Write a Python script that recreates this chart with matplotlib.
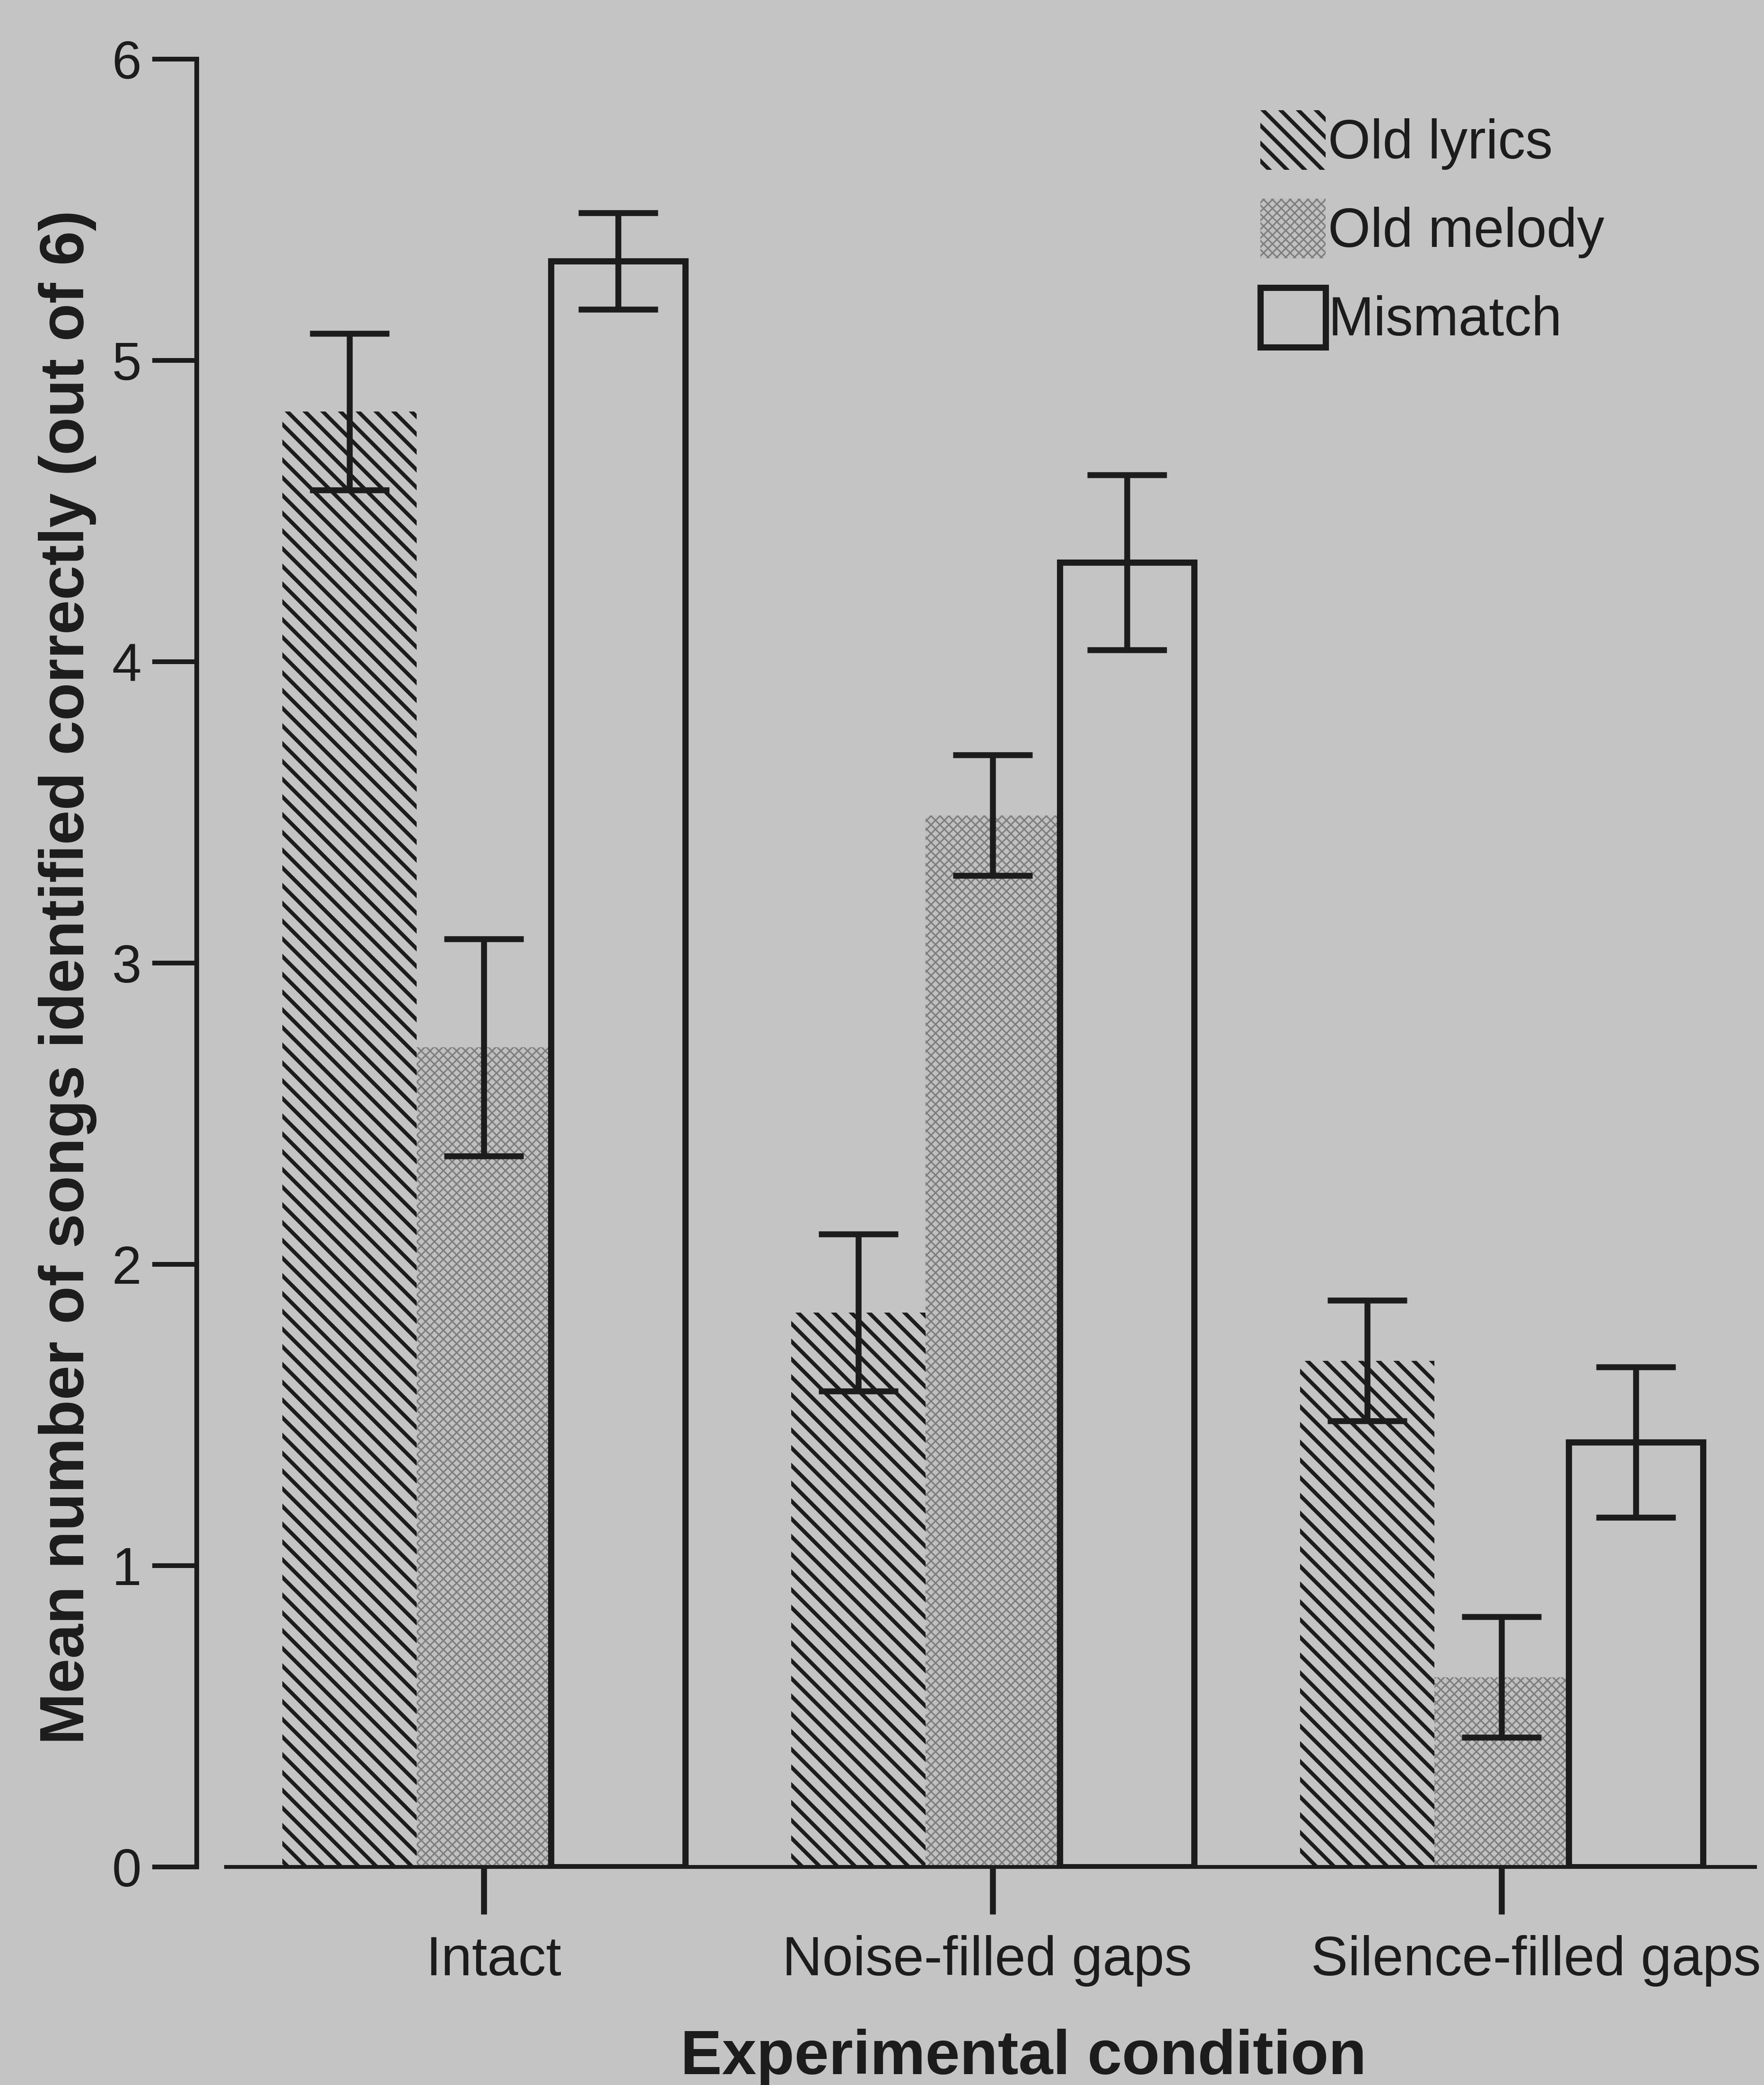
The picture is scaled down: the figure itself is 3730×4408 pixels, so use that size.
import matplotlib
matplotlib.use("Agg")
import matplotlib.pyplot as plt
import matplotlib.transforms as mtransforms
import numpy as np

# ---- data ----
conditions = ["Intact", "Noise-filled gaps", "Silence-filled gaps"]
series = ["Old lyrics", "Old melody", "Mismatch"]

old_lyrics = [4.83, 1.84, 1.68]
old_lyrics_err = [0.26, 0.26, 0.20]
old_melody = [2.72, 3.49, 0.63]
old_melody_err = [0.36, 0.20, 0.20]
mismatch = [5.33, 4.33, 1.41]
mismatch_err = [0.16, 0.29, 0.25]

# ---- figure geometry (pixels of the 3730x4408 output) ----
W, H, DPI = 3730, 4408, 225
BG = "#c4c4c4"
INK = "#1c1c1c"
LYRICS_HATCH_LW = 2.6
MELODY_HATCH_LW = 1.0

plt.rcParams["font.family"] = ["Liberation Sans", "DejaVu Sans"]
plt.rcParams["hatch.linewidth"] = LYRICS_HATCH_LW


def set_hatch_lw(patch, lw):
    if hasattr(patch, "set_hatch_linewidth"):
        patch.set_hatch_linewidth(lw)
    else:
        patch._hatch_linewidth = lw


fig = plt.figure(figsize=(W / DPI, H / DPI), dpi=DPI, facecolor=BG)
ax = fig.add_axes([416 / W, 1 - 3947 / H, 1 - 416 / W, (3947 - 125) / H])
ax.set_facecolor("none")

x = np.arange(len(conditions))
w = 0.264

b1 = ax.bar(x - w, old_lyrics, w, facecolor="none", edgecolor=INK,
            hatch="\\\\", linewidth=0)
with plt.rc_context({"hatch.linewidth": MELODY_HATCH_LW}):
    b2 = ax.bar(x, old_melody, w, facecolor="#c0c0c0", edgecolor="#7e7e7e",
                hatch="xxxx", linewidth=0)
for p in b2:
    set_hatch_lw(p, MELODY_HATCH_LW)
b3 = ax.bar(x + w, mismatch, w, facecolor="none", edgecolor=INK, linewidth=4.2)

err_style = dict(fmt="none", ecolor=INK, elinewidth=4, capsize=27, capthick=4)
ax.errorbar(x - w, old_lyrics, yerr=old_lyrics_err, **err_style)
ax.errorbar(x, old_melody, yerr=old_melody_err, **err_style)
ax.errorbar(x + w, mismatch, yerr=mismatch_err, **err_style)

ax.set_xlim(-0.564, 2.516)
ax.set_ylim(0, 6)
for side in ("top", "right"):
    ax.spines[side].set_visible(False)
ax.spines["left"].set_bounds(0, 6)
ax.spines["left"].set_linewidth(3.2)
ax.spines["left"].set_color(INK)
ax.spines["bottom"].set_bounds(-0.5065, 2.498)
ax.spines["bottom"].set_linewidth(2.6)
ax.spines["bottom"].set_color(INK)

ax.set_yticks(range(7))
ax.set_xticks(x, conditions)
ax.tick_params(axis="y", length=30, width=3.2, pad=7.5, labelsize=36,
               color=INK, labelcolor=INK)
ax.tick_params(axis="x", length=32, width=4, pad=14, labelsize=37.5,
               color=INK, labelcolor=INK)

# small horizontal nudges of the category labels, as in the original
for lab, dx in zip(ax.get_xticklabels(), [6.7, -3.6, 23.4]):
    off = mtransforms.ScaledTranslation(dx / 72, 0, fig.dpi_scale_trans)
    lab.set_transform(lab.get_transform() + off)

leg = ax.legend([b1, b2, b3], series, loc="upper left",
                bbox_to_anchor=(2665 / W, 1 - 233 / H), bbox_transform=fig.transFigure,
                frameon=False, fontsize=37, handlelength=1.19, handleheight=1.30,
                handletextpad=0.05, labelspacing=0.53, borderpad=0, borderaxespad=0,
                labelcolor=INK)
set_hatch_lw(leg.get_patches()[1], MELODY_HATCH_LW)

fig.text(177 / W, 1 - 2066 / H, "Mean number of songs identified correctly (out of 6)",
         rotation=90, rotation_mode="anchor", ha="center", va="baseline",
         fontsize=42, fontweight="bold", color=INK)
fig.text(2164 / W, 1 - 4385 / H, "Experimental condition",
         ha="center", va="baseline", fontsize=42, fontweight="bold", color=INK)

fig.savefig("out.png", dpi=DPI, facecolor=BG)
